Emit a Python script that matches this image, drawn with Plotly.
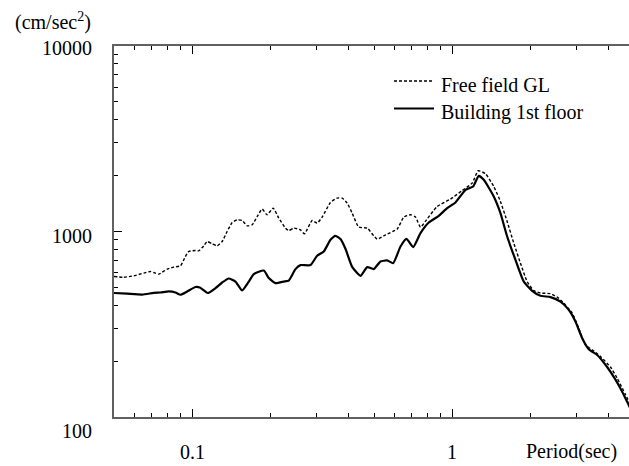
import math
import plotly.graph_objects as go

# Period (sec) and response acceleration (cm/sec^2)
period_free = [0.05, 0.0545, 0.0596, 0.0651, 0.0691, 0.0711, 0.0743, 0.0801, 0.0849, 0.0901,
               0.0941, 0.0969, 0.1029, 0.1059, 0.1107, 0.1141, 0.1193, 0.1247, 0.1303, 0.1362,
               0.1424, 0.1489, 0.1555, 0.1626, 0.1700, 0.1777, 0.1857, 0.1941, 0.2047, 0.2151,
               0.2283, 0.2350, 0.2457, 0.2607, 0.2701, 0.2891, 0.3022, 0.3159, 0.3401, 0.3608,
               0.3772, 0.3943, 0.4121, 0.4369, 0.4708, 0.5142, 0.5534, 0.6138, 0.6509, 0.6906,
               0.7220, 0.7546, 0.7960, 0.8748, 0.984, 1.092, 1.193, 1.258, 1.342, 1.444,
               1.532, 1.626, 1.724, 1.829, 1.941, 2.058, 2.184, 2.386, 2.532, 2.685,
               2.893, 3.066, 3.253, 3.452, 3.715, 4.059, 4.308, 4.637, 4.803]
accel_free = [572, 567, 577, 597, 609, 601, 589, 627, 643, 653,
              733, 780, 790, 787, 837, 883, 858, 837, 883, 1000,
              1118, 1156, 1146, 1073, 1087, 1205, 1320, 1230, 1337, 1181,
              1043, 1012, 1043, 1021, 972, 1146, 1110, 1196, 1434, 1514,
              1514, 1423, 1256, 1056, 1043, 910, 960, 1030, 1196, 1230,
              1196, 1056, 1156, 1364, 1495, 1663, 1824, 2125, 2047, 1748,
              1451, 1132, 866, 675, 537, 480, 466, 462, 443, 411,
              363, 301, 245, 230, 212, 186, 162, 132, 119]

period_bld = [0.05, 0.0562, 0.0642, 0.0711, 0.0754, 0.0812, 0.0862, 0.0901, 0.0956, 0.1029,
              0.1069, 0.1147, 0.1228, 0.1303, 0.1381, 0.1466, 0.1555, 0.1650, 0.1724, 0.1884,
              0.1969, 0.2089, 0.2248, 0.2350, 0.2494, 0.2607, 0.2848, 0.3022, 0.3204, 0.3401,
              0.3555, 0.3715, 0.3883, 0.4121, 0.4435, 0.4708, 0.4989, 0.5296, 0.5619, 0.5925,
              0.6322, 0.6666, 0.7075, 0.7546, 0.8121, 0.8872, 0.9558, 1.029, 1.124, 1.203,
              1.264, 1.322, 1.444, 1.532, 1.626, 1.750, 1.884, 2.029, 2.184, 2.386,
              2.607, 2.806, 2.977, 3.160, 3.350, 3.608, 3.942, 4.244, 4.503, 4.773, 4.83]
accel_bld = [466, 462, 457, 467, 469, 475, 469, 456, 475, 502,
             499, 466, 495, 531, 558, 537, 481, 537, 589, 616,
             561, 527, 537, 544, 627, 659, 659, 740, 780, 902,
             948, 910, 807, 645, 577, 643, 627, 689, 698, 675,
             830, 913, 824, 980, 1118, 1215, 1337, 1434, 1678, 1748,
             1996, 1900, 1544, 1256, 940, 704, 537, 479, 450, 443,
             419, 378, 327, 266, 232, 216, 186, 159, 137, 116, 112]

series_names = ["Free field GL", "Building 1st floor"]
x_tick_vals = [0.1, 1]
x_tick_text = ["0.1", "1"]
x_minor_vals = [0.06, 0.07, 0.08, 0.09, 0.2, 0.3, 0.4, 0.5, 0.6, 0.7, 0.8, 0.9, 2, 3, 4]
y_tick_vals = [100, 1000, 10000]
y_tick_text = ["100", "1000", "10000"]
y_minor_vals = [200, 300, 400, 500, 600, 700, 800, 900,
                2000, 3000, 4000, 5000, 6000, 7000, 8000, 9000]
x_title = "Period(sec)"
y_title = "(cm/sec<sup>2</sup>)"

FONT = "Liberation Serif"
FS = 20
W, H = 629, 466
ML, MR, MT, MB = 114, 0, 46, 49
PW = W - ML - MR
PH = H - MT - MB
DECADE_PX = 260.0
x_lo = math.log10(0.05)
x_hi = x_lo + PW / DECADE_PX

fig = go.Figure()
fig.add_trace(go.Scatter(x=period_free, y=accel_free, mode="lines", name=series_names[0],
                         line=dict(color="black", width=1.4, dash="3px,2px", shape="spline", smoothing=0.5),
                         showlegend=False))
fig.add_trace(go.Scatter(x=period_bld, y=accel_bld, mode="lines", name=series_names[1],
                         line=dict(color="black", width=2.2, shape="spline", smoothing=0.5),
                         showlegend=False))

axis_common = dict(showgrid=False, zeroline=False, showline=True, linecolor="#606060", linewidth=2,
                   ticks="inside", tickcolor="black", tickwidth=1, ticklen=8,
                   showticklabels=False)

fig.update_xaxes(type="log", range=[x_lo, x_hi], tickvals=x_tick_vals, mirror="allticks",
                 minor=dict(tickvals=x_minor_vals, ticks="inside", ticklen=4, tickcolor="black", tickwidth=1),
                 **axis_common)
fig.update_yaxes(type="log", range=[2, 4], tickvals=y_tick_vals, mirror=False,
                 minor=dict(tickvals=y_minor_vals, ticks="inside", ticklen=4, tickcolor="black", tickwidth=1),
                 **axis_common)

txt_font = dict(family=FONT, size=FS, color="black")
annotations = []
y_shifts = [-14, -4, -2]
for v, t, s in zip(y_tick_vals, y_tick_text, y_shifts):
    annotations.append(dict(text=t, xref="paper", x=0, xshift=-20, xanchor="right",
                            yref="y", y=math.log10(v), yshift=s, yanchor="middle",
                            showarrow=False, font=txt_font))
for v, t in zip(x_tick_vals, x_tick_text):
    annotations.append(dict(text=t, xref="x", x=math.log10(v), xanchor="center",
                            yref="paper", y=0, yshift=-35, yanchor="middle",
                            showarrow=False, font=txt_font))
annotations.append(dict(text=x_title, xref="paper", x=(571 - ML) / PW, xanchor="center",
                        yref="paper", y=0, yshift=-34, yanchor="middle",
                        showarrow=False, font=txt_font))
annotations.append(dict(text=y_title, xref="paper", x=0, xshift=-21, xanchor="right",
                        yref="paper", y=1, yshift=25, yanchor="middle",
                        showarrow=False, font=txt_font))

# manual legend
def px_x(px):
    return (px - ML) / PW

def px_y(py):
    return 1 - (py - MT) / PH

leg_rows = [(81, 85, dict(color="black", width=1.4, dash="3px,2px")),
            (108.5, 112, dict(color="black", width=2.2))]
shapes = []
for name, (ly, ty, ln) in zip(series_names, leg_rows):
    shapes.append(dict(type="line", xref="paper", yref="paper", x0=px_x(394), x1=px_x(434),
                       y0=px_y(ly), y1=px_y(ly), line=ln))
    annotations.append(dict(text=name, xref="paper", x=px_x(439), xanchor="left",
                            yref="paper", y=px_y(ty), yanchor="middle", showarrow=False,
                            font=txt_font))
# right-side tick at 1000
shapes.append(dict(type="line", xref="paper", yref="y", x0=1 - 5 / PW, x1=1,
                   y0=3, y1=3, line=dict(color="black", width=1)))

fig.update_layout(width=W, height=H, margin=dict(l=ML, r=MR, t=MT, b=MB, pad=0),
                  paper_bgcolor="white", plot_bgcolor="white",
                  annotations=annotations, shapes=shapes, showlegend=False,
                  font=txt_font)

fig.write_html("out.html", config={"displayModeBar": False},
               post_script="document.body.style.margin='0px';document.body.style.overflow='hidden';")
